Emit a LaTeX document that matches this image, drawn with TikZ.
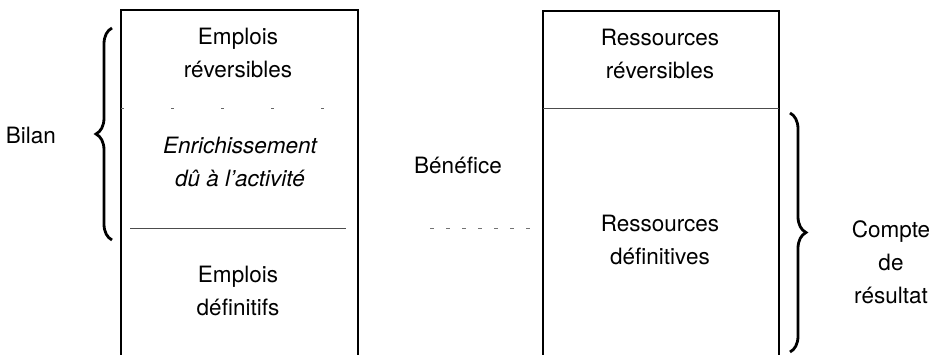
\documentclass[tikz,border=0pt]{standalone}
\usepackage{fontspec}
\setmainfont{TeX Gyre Heros}
\usetikzlibrary{decorations.pathreplacing}
\begin{document}
\begin{tikzpicture}[x=1pt,y=-1pt,
  lbl/.style={align=center,font=\fontsize{22.5}{33}\selectfont,inner sep=0pt},
  boxline/.style={line width=1.4pt,black},
  sep/.style={line width=0.8pt,black!70},
  sparse/.style={line width=0.9pt,black!60,dash pattern=on 3pt off 47pt},
  bracestyle/.style={line width=2.8pt,decorate,decoration={brace,amplitude=16pt}}]
\useasboundingbox (0,0) rectangle (935,355);
% left box
\coordinate (L1) at (121,355); \coordinate (L2) at (121,10);
\coordinate (L3) at (358,10);  \coordinate (L4) at (358,355);
\draw[boxline] (L1) -- (L2) -- (L3) -- (L4);
\coordinate (D1) at (121,108); \coordinate (D2) at (358,108);
\draw[sparse] (D1) -- (D2);
\coordinate (S1) at (130,228); \coordinate (S2) at (346,228);
\draw[sep] (S1) -- (S2);
% right box
\coordinate (R1) at (543,355); \coordinate (R2) at (543,11);
\coordinate (R3) at (779,11);  \coordinate (R4) at (779,355);
\draw[boxline] (R1) -- (R2) -- (R3) -- (R4);
\coordinate (T1) at (543,108); \coordinate (T2) at (779,108);
\draw[sep] (T1) -- (T2);
% dashed between
\coordinate (B1) at (430,228); \coordinate (B2) at (540,228);
\draw[line width=0.8pt,black!55,dash pattern=on 4pt off 12pt] (B1) -- (B2);
% braces
\coordinate (LB1) at (112,240); \coordinate (LB2) at (112,28);
\draw[bracestyle] (LB1) -- (LB2);
\coordinate (RB1) at (790,113); \coordinate (RB2) at (790,352);
\draw[bracestyle] (RB1) -- (RB2);
% texts
\node[lbl] (er) at (238,53) {Emplois\\réversibles};
\node[lbl] (en) at (240,162) {\itshape Enrichissement\\\itshape dû à l’activité};
\node[lbl] (ed) at (238,291) {Emplois\\définitifs};
\node[lbl] (rr) at (660,54) {Ressources\\réversibles};
\node[lbl] (rd) at (660,240) {Ressources\\définitives};
\node[lbl] (bil) at (31,135) {Bilan};
\node[lbl] (ben) at (458,165) {Bénéfice};
\node[lbl] (cr) at (891,262) {Compte\\de\\résultat};
\end{tikzpicture}
\end{document}
